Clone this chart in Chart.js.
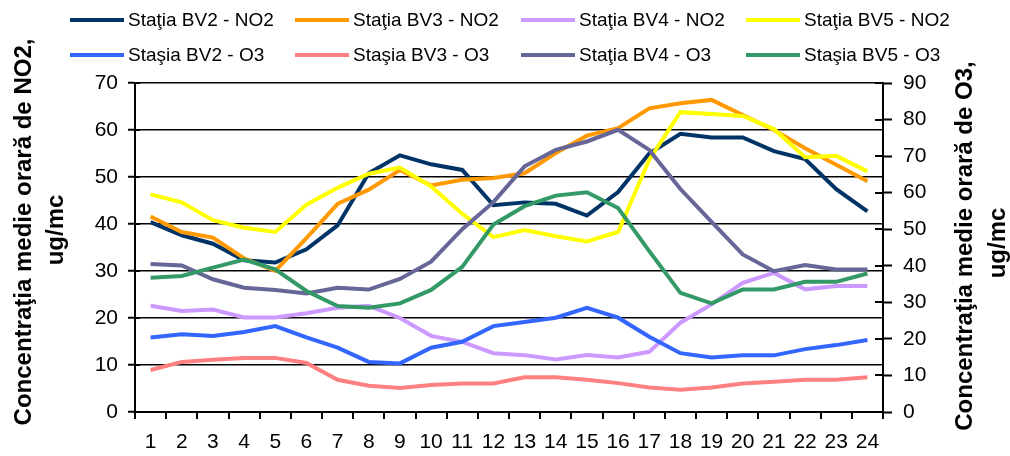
<!DOCTYPE html>
<html>
<head>
<meta charset="utf-8">
<script src="https://cdn.jsdelivr.net/npm/chart.js@4.4.1/dist/chart.umd.min.js"></script>
<style>
  html, body { margin: 0; padding: 0; background: #fff; }
  canvas { display: block; }
</style>
</head>
<body>
<canvas id="c" width="1010" height="456"></canvas>
<script>
// ---- data ----
const hours = ['1','2','3','4','5','6','7','8','9','10','11','12','13','14','15','16','17','18','19','20','21','22','23','24'];

const no2BV2 = [40.4, 37.6, 35.8, 32.3, 31.8, 34.6, 39.7, 50.8, 54.6, 52.7, 51.5, 44.0, 44.6, 44.3, 41.8, 46.8, 55.0, 59.2, 58.4, 58.4, 55.5, 53.8, 47.4, 42.7];
const no2BV3 = [41.6, 38.3, 37.1, 32.7, 30.0, 37.0, 44.3, 47.3, 51.5, 48.2, 49.4, 49.8, 50.8, 55.1, 58.8, 60.4, 64.6, 65.7, 66.4, 63.2, 60.0, 56.1, 52.6, 49.1];
const no2BV4 = [22.6, 21.5, 21.8, 20.1, 20.1, 21.0, 22.2, 22.6, 20.0, 16.2, 14.9, 12.5, 12.1, 11.2, 12.1, 11.6, 12.8, 19.0, 22.9, 27.5, 29.6, 26.1, 26.8, 26.8];
const no2BV5 = [46.3, 44.6, 40.8, 39.2, 38.3, 44.1, 47.7, 50.7, 52.0, 48.0, 42.2, 37.2, 38.7, 37.4, 36.3, 38.3, 53.7, 63.8, 63.4, 63.0, 60.2, 54.2, 54.5, 51.2];

const o3BV2 = [20.4, 21.3, 20.8, 21.9, 23.5, 20.4, 17.6, 13.7, 13.3, 17.6, 19.2, 23.5, 24.6, 25.8, 28.5, 25.8, 20.6, 16.1, 14.9, 15.5, 15.5, 17.2, 18.3, 19.7];
const o3BV3 = [11.5, 13.7, 14.3, 14.8, 14.8, 13.4, 8.8, 7.2, 6.6, 7.4, 7.8, 7.8, 9.5, 9.5, 8.8, 7.9, 6.7, 6.1, 6.7, 7.8, 8.3, 8.8, 8.8, 9.5];
const o3BV4 = [40.5, 40.1, 36.3, 34.0, 33.4, 32.4, 34.0, 33.5, 36.4, 41.1, 50.0, 57.4, 67.2, 71.7, 74.0, 77.2, 71.7, 61.0, 52.0, 43.1, 38.5, 40.2, 39.0, 39.0];
const o3BV5 = [36.7, 37.2, 39.5, 41.7, 39.0, 33.1, 29.0, 28.5, 29.7, 33.4, 39.7, 51.3, 56.3, 59.2, 60.1, 55.8, 44.0, 32.6, 29.7, 33.5, 33.5, 35.6, 35.6, 37.9];

const seriesNames = [
  'Staţia BV2 - NO2', 'Staţia BV3 - NO2', 'Staţia BV4 - NO2', 'Staţia BV5 - NO2',
  'Staşia BV2 - O3', 'Staşia BV3 - O3', 'Staţia BV4 - O3', 'Staşia BV5 - O3'
];
const leftTitle = ['Concentraţia medie orară de NO2,', 'ug/mc'];
const rightTitle = ['Concentraţia medie orară de O3,', 'ug/mc'];

// ---- styling ----
const FONT = "'Liberation Sans', Arial, sans-serif";
const colors = ['#003366', '#ff9900', '#cc99ff', '#ffff00', '#3366ff', '#ff8080', '#666699', '#339966'];
const seriesData = [no2BV2, no2BV3, no2BV4, no2BV5, o3BV2, o3BV3, o3BV4, o3BV5];
const axisOf = ['y', 'y', 'y', 'y', 'y1', 'y1', 'y1', 'y1'];

const datasets = seriesData.map((d, i) => ({
  label: seriesNames[i],
  data: d,
  yAxisID: axisOf[i],
  borderColor: colors[i],
  backgroundColor: colors[i],
  borderWidth: 4,
  pointRadius: 0,
  tension: 0,
  fill: false,
  order: -i
}));

const extras = {
  id: 'extras',
  afterDraw(chart) {
    const ctx = chart.ctx;
    const y = chart.scales.y, y1 = chart.scales.y1;
    ctx.save();
    // inner halves of the crossing tick marks
    ctx.strokeStyle = '#000';
    ctx.lineWidth = 2;
    y.ticks.forEach(t => {
      const py = Math.round(y.getPixelForValue(t.value));
      ctx.beginPath(); ctx.moveTo(y.right, py); ctx.lineTo(y.right + 5, py); ctx.stroke();
    });
    y1.ticks.forEach(t => {
      const py = Math.round(y1.getPixelForValue(t.value));
      ctx.beginPath(); ctx.moveTo(y1.left, py); ctx.lineTo(y1.left - 8, py); ctx.stroke();
    });

    // axis titles (rotated, reading bottom to top)
    ctx.fillStyle = '#000';
    ctx.font = "bold 24px " + FONT;
    ctx.textAlign = 'center';
    ctx.textBaseline = 'middle';
    const drawRot = (txt, x, cy) => {
      ctx.save(); ctx.translate(x, cy); ctx.rotate(-Math.PI / 2); ctx.fillText(txt, 0, 0); ctx.restore();
    };
    drawRot(leftTitle[0], 24, 232);
    drawRot(leftTitle[1], 56, 230);
    drawRot(rightTitle[0], 965, 246);
    drawRot(rightTitle[1], 998, 243);

    // legend (2 rows x 4 columns)
    const colX = [70, 295, 521, 746];
    const rowY = [20, 55];
    ctx.font = "19px " + FONT;
    ctx.textAlign = 'left';
    ctx.textBaseline = 'middle';
    chart.data.datasets.forEach((ds, i) => {
      const x0 = colX[i % 4], yy = rowY[Math.floor(i / 4)];
      ctx.strokeStyle = ds.borderColor;
      ctx.lineWidth = 4;
      ctx.beginPath(); ctx.moveTo(x0, yy); ctx.lineTo(x0 + 54, yy); ctx.stroke();
      ctx.fillStyle = '#000';
      ctx.fillText(ds.label, x0 + 58, yy + 1);
    });
    ctx.restore();
  }
};

const tickFont = { family: FONT, size: 21 };

new Chart(document.getElementById('c'), {
  type: 'line',
  data: { labels: hours, datasets },
  options: {
    responsive: false,
    animation: false,
    devicePixelRatio: 1,
    layout: { padding: { top: 83, left: 0, right: 0, bottom: 0 } },
    plugins: { legend: { display: false }, tooltip: { enabled: false }, title: { display: false } },
    scales: {
      x: {
        offset: true,
        grid: { offset: true, drawOnChartArea: false, tickLength: 7, color: '#000', lineWidth: 2 },
        border: { color: '#000', width: 2 },
        ticks: { color: '#000', font: tickFont, padding: 11, maxRotation: 0, autoSkip: false },
        afterFit: s => { s.height = 44; }
      },
      y: {
        position: 'left',
        min: 0, max: 70,
        grid: { color: '#000', lineWidth: 1.5, tickLength: 7, tickColor: '#000', tickWidth: 2 },
        border: { color: '#000', width: 2 },
        ticks: { stepSize: 10, color: '#000', font: tickFont, padding: 10 },
        afterFit: s => { s.width = 135; }
      },
      y1: {
        position: 'right',
        min: 0, max: 90,
        grid: { drawOnChartArea: false, tickLength: 9, color: '#000', tickColor: '#000', tickWidth: 2 },
        border: { color: '#000', width: 2 },
        ticks: { stepSize: 10, color: '#000', font: tickFont, padding: 11 },
        afterFit: s => { s.width = 127; }
      }
    }
  },
  plugins: [extras]
});
</script>
</body>
</html>
